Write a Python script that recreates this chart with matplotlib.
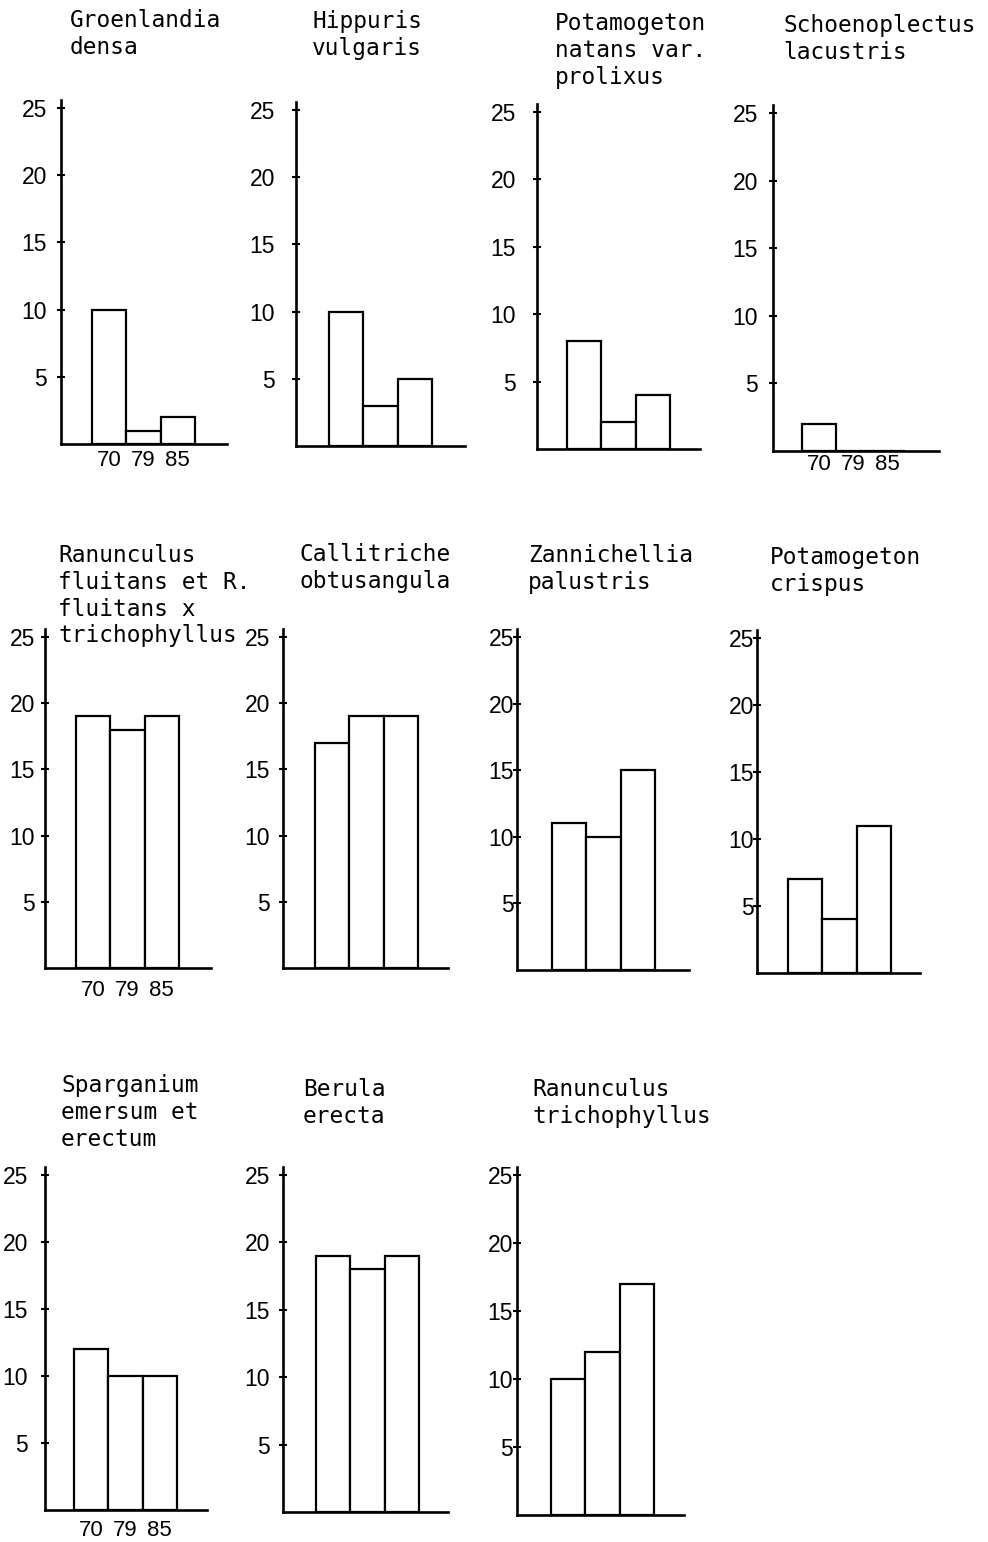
import matplotlib
matplotlib.use("Agg")
import matplotlib.pyplot as plt

# ---------------- data ----------------
species = [
    "Groenlandia\ndensa",
    "Hippuris\nvulgaris",
    "Potamogeton\nnatans var.\nprolixus",
    "Schoenoplectus\nlacustris",
    "Ranunculus\nfluitans et R.\nfluitans x\ntrichophyllus",
    "Callitriche\nobtusangula",
    "Zannichellia\npalustris",
    "Potamogeton\ncrispus",
    "Sparganium\nemersum et\nerectum",
    "Berula\nerecta",
    "Ranunculus\ntrichophyllus",
]
years = ["70", "79", "85"]
y_ticks = [5, 10, 15, 20, 25]

groenlandia_densa = [10, 1, 2]
hippuris_vulgaris = [10, 3, 5]
potamogeton_natans = [8, 2, 4]
schoenoplectus_lacustris = [2, 0, 0]
ranunculus_fluitans = [19, 18, 19]
callitriche_obtusangula = [17, 19, 19]
zannichellia_palustris = [11, 10, 15]
potamogeton_crispus = [7, 4, 11]
sparganium_emersum = [12, 10, 10]
berula_erecta = [19, 18, 19]
ranunculus_trichophyllus = [10, 12, 17]

values = [groenlandia_densa, hippuris_vulgaris, potamogeton_natans,
          schoenoplectus_lacustris, ranunculus_fluitans, callitriche_obtusangula,
          zannichellia_palustris, potamogeton_crispus, sparganium_emersum,
          berula_erecta, ranunculus_trichophyllus]
show_years = [True, False, False, True, True, False, False, False, True, False, False]

# ---------------- layout (pixels) ----------------
W, H = 988, 1542
UNIT = 34.3  # px per bar width
# axis_x, baseline_y, y_of_25, axis_len, bar_offset, ylabel_gap, xlabel_gap, title_x, title_top
layout = [
    (61, 444, 108, 166, 31, 14, 6, 70, 9),
    (296, 446, 110, 169, 33, 21, 6, 312, 10),
    (537, 449, 112, 163, 30, 21, 6, 555, 12),
    (773, 451, 113, 166, 29, 15, 3, 783, 14),
    (45, 968, 637, 166, 31, 10, 12, 58, 544),
    (283, 968, 637, 165, 32, 13, 6, 299, 543),
    (517, 970, 637, 172, 35, 3, 6, 528, 544),
    (757, 973, 638, 163, 31, 3, 6, 770, 546),
    (45, 1510, 1175, 162, 29, 17, 10, 61, 1074),
    (283, 1512, 1175, 165, 33, 13, 6, 303, 1078),
    (517, 1515, 1175, 167, 34, 4, 6, 532, 1078),
]

TOP = 25.6
LW = 1.6
TICK_LEN = 6.0

fig = plt.figure(figsize=(W / 100, H / 100), dpi=100)
fig.patch.set_facecolor("white")

for name, vals, showy, lay in zip(species, values, show_years, layout):
    ax_x, base, y25, alen, boff, ygap, xgap, tx, ttop = lay
    ppu = (base - y25) / 25.0
    hpx = ppu * TOP
    ax = fig.add_axes([ax_x / W, (H - base) / H, alen / W, hpx / H])
    ax.set_xlim(0, alen / UNIT)
    ax.set_ylim(0, TOP)
    x0 = boff / UNIT
    xs = [x0 + i for i in range(len(vals))]
    ax.bar(xs, vals, width=1.0, align="edge", facecolor="white",
           edgecolor="black", linewidth=LW, zorder=2)
    for s in ["top", "right"]:
        ax.spines[s].set_visible(False)
    for s in ["left", "bottom"]:
        ax.spines[s].set_linewidth(LW + 0.3)
        ax.spines[s].set_zorder(3)
    ax.set_yticks(y_ticks)
    ax.set_yticklabels([str(t) for t in y_ticks], fontfamily="Liberation Sans",
                       fontsize=16.5)
    ax.tick_params(axis="y", direction="inout", length=TICK_LEN, width=1.5,
                   pad=ygap * 0.72 - TICK_LEN / 2)
    if showy:
        ax.set_xticks([x + 0.5 for x in xs])
        ax.set_xticklabels(years, fontfamily="Liberation Sans", fontsize=16)
        ax.tick_params(axis="x", length=0, pad=xgap * 0.72)
    else:
        ax.set_xticks([])
    ax.patch.set_alpha(0)
    fig.text(tx / W, 1 - ttop / H, name, ha="left", va="top",
             fontfamily="DejaVu Sans Mono", fontsize=16.4, linespacing=1.21)

fig.savefig("out.png", dpi=100, facecolor="white")
